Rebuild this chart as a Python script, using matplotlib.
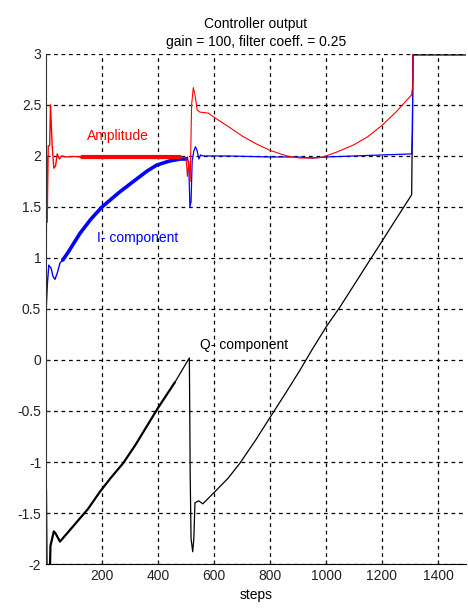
import numpy as np
import matplotlib
matplotlib.use("Agg")
import matplotlib.pyplot as plt

plt.rcParams['font.family'] = ['Liberation Sans', 'DejaVu Sans']

# Amplitude (red)
amp_steps = [0, 2, 4, 8, 13, 16, 19, 22, 28, 34, 40, 48, 55, 70, 100, 130, 200, 300, 400, 480, 500,
             505, 510, 515, 520, 526, 532, 540, 550, 580, 600, 650, 704, 750, 800, 860, 905, 950,
             980, 1000, 1040, 1100, 1150, 1200, 1250, 1306, 1310, 1312, 1500]
amp_vals = [0.0, 2.0, 1.35, 2.1, 2.1, 2.5, 2.3, 2.1, 1.88, 1.9, 2.02, 1.97, 2.0, 1.99, 1.995, 1.99, 1.99,
            1.99, 1.99, 1.99, 1.98, 1.8, 1.95, 1.75, 2.5, 2.67, 2.6, 2.45, 2.43, 2.42, 2.38, 2.29, 2.19,
            2.12, 2.055, 2.0, 1.98, 1.98, 1.985, 2.0, 2.04, 2.11, 2.19, 2.3, 2.43, 2.6, 2.7, 4.0, 4.0]

# I-component (blue)
i_steps = [0, 5, 10, 18, 25, 32, 40, 50, 60, 80, 121, 160, 200, 260, 312, 360, 395, 440, 480, 500,
           505, 510, 514, 518, 522, 528, 534, 540, 546, 552, 560, 650, 800, 900, 950, 1000, 1100,
           1200, 1306, 1309, 1312, 1500]
i_vals = [0.45, 0.75, 0.93, 0.9, 0.82, 0.79, 0.85, 0.95, 0.98, 1.06, 1.24, 1.38, 1.5, 1.64, 1.75,
          1.85, 1.91, 1.95, 1.97, 1.97, 1.99, 1.9, 1.5, 1.55, 1.95, 2.05, 2.09, 2.05, 1.97, 2.01,
          2.0, 2.0, 1.99, 1.99, 1.98, 1.99, 2.0, 2.01, 2.02, 2.25, 4.0, 4.0]

# Q-component (black)
q_steps = [0, 2, 14, 16, 28, 34, 50, 100, 150, 193, 230, 276, 320, 371, 400, 460, 512, 513, 515,
           518, 524, 528, 532, 545, 560, 600, 650, 693, 750, 802, 850, 907, 950, 1002, 1050, 1092,
           1150, 1199, 1250, 1306, 1311, 1500]
q_vals = [-1.27, -2.05, -2.05, -1.82, -1.68, -1.7, -1.78, -1.62, -1.46, -1.29, -1.16, -1.01, -0.83,
          -0.6, -0.47, -0.22, 0.02, -0.35, -1.13, -1.75, -1.88, -1.75, -1.4, -1.38, -1.41, -1.3,
          -1.16, -1.01, -0.78, -0.555, -0.35, -0.1, 0.1, 0.33, 0.52, 0.7, 0.95, 1.16, 1.38, 1.62,
          2.99, 2.99]

fig = plt.figure(figsize=(4.68, 6.13), dpi=100)
ax = fig.add_axes([0.0983, 0.0799, 0.8974, 0.8321])

amp_s, amp_v = np.array(amp_steps), np.array(amp_vals)
i_s, i_v = np.array(i_steps), np.array(i_vals)
q_s, q_v = np.array(q_steps), np.array(q_vals)


def seg(s, v, lo, hi):
    m = (s >= lo) & (s <= hi)
    return s[m], v[m]


kw = dict(solid_capstyle='round', solid_joinstyle='round')
# black
ax.plot(*seg(q_s, q_v, 0, 460), color='black', lw=1.6, **kw)
ax.plot(*seg(q_s, q_v, 460, 1500), color='black', lw=0.9, **kw)
# blue
ax.plot(*seg(i_s, i_v, 0, 60), color='blue', lw=1.0, **kw)
ax.plot(*seg(i_s, i_v, 60, 500), color='blue', lw=2.6, **kw)
ax.plot(*seg(i_s, i_v, 500, 1500), color='blue', lw=0.9, **kw)
# red
ax.plot(*seg(amp_s, amp_v, 0, 130), color='red', lw=1.0, **kw)
ax.plot(*seg(amp_s, amp_v, 130, 480), color='red', lw=3.0, **kw)
ax.plot(*seg(amp_s, amp_v, 480, 1500), color='red', lw=0.8, **kw)

ax.text(146, 2.2, 'Amplitude', color='red', fontsize=10, va='center')
ax.text(182, 1.2, 'I- component', color='blue', fontsize=10, va='center')
ax.text(550, 0.15, 'Q- component', color='black', fontsize=10, va='center')

ax.set_xlim(0, 1500)
ax.set_ylim(-2, 3)
ax.set_xticks([200, 400, 600, 800, 1000, 1200, 1400])
yt = np.arange(-2, 3.01, 0.5)
ax.set_yticks(yt)
ax.set_yticklabels(['%g' % t for t in yt])
ax.tick_params(direction='in', length=3, labelsize=10, colors='#222222')
ax.grid(True, color='black', linestyle=(0, (3, 3)), linewidth=0.9)
ax.spines['top'].set_visible(False)
ax.spines['right'].set_visible(False)
ax.spines['left'].set_color('#333333')
ax.set_xlabel('steps', fontsize=10, labelpad=4)
ax.set_title('Controller output\ngain = 100, filter coeff. = 0.25', fontsize=10, pad=6,
             linespacing=1.3)

fig.savefig('out.png', dpi=100)
